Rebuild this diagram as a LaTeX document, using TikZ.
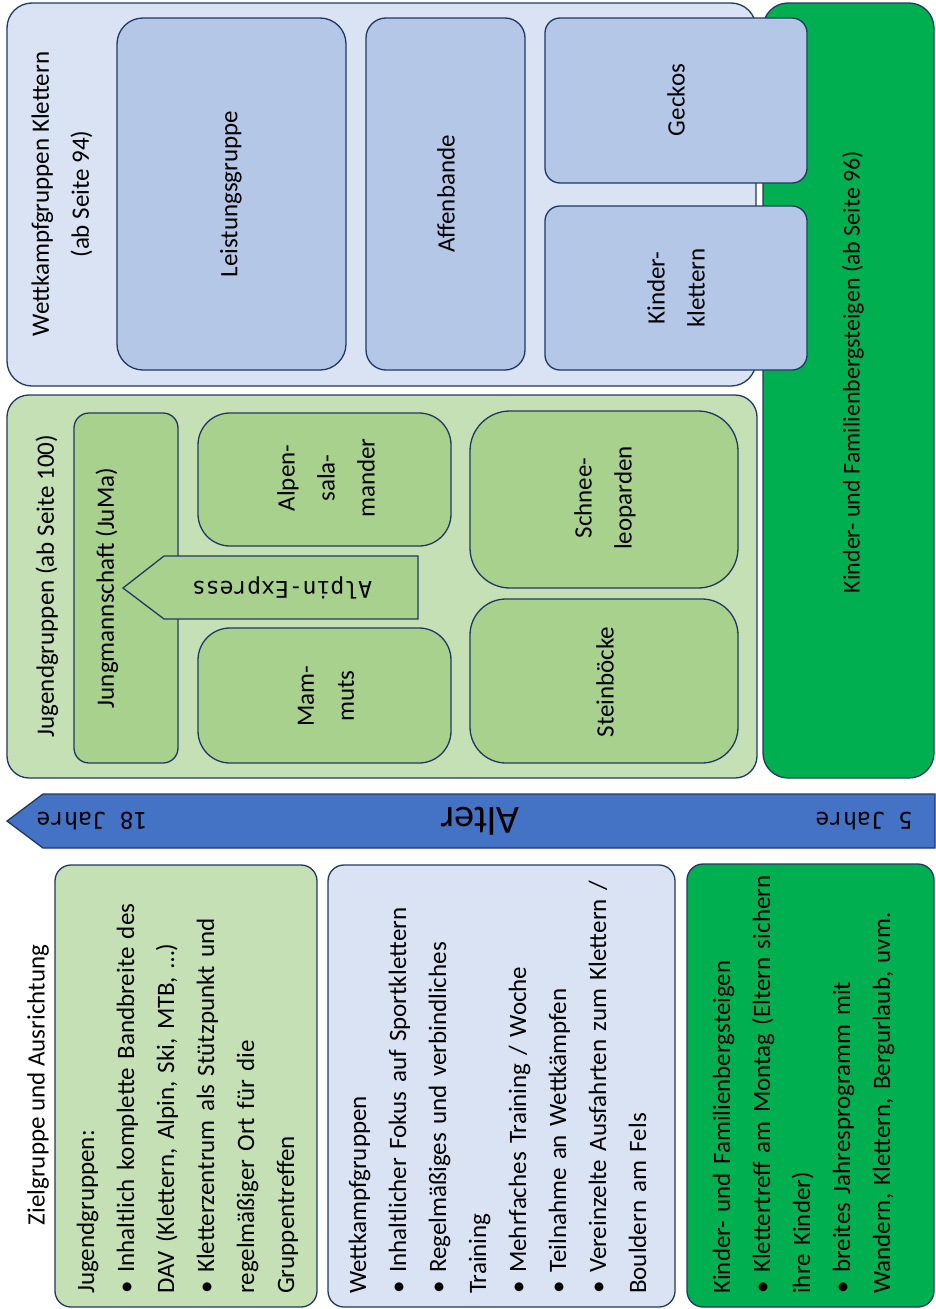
\documentclass[tikz,border=0pt]{standalone}
\usepackage{fontspec}
\setmainfont{Carlito}
\newfontfamily\dmono{DejaVu Sans Mono}
\definecolor{edge}{HTML}{1F3864}
\definecolor{wkouter}{HTML}{DAE3F3}
\definecolor{wkinner}{HTML}{B4C7E7}
\definecolor{jgouter}{HTML}{C5E0B4}
\definecolor{jginner}{HTML}{A9D18E}
\definecolor{kfgreen}{HTML}{00B050}
\definecolor{altblue}{HTML}{4472C4}
\newcommand\bul[1]{\par\hangindent=21pt\hangafter=1\noindent\hbox to 21pt{\textbullet\hfil}#1}
\tikzset{
  box/.style={draw=edge, line width=1.3pt},
  lbl/.style={rotate=90, font=\fontsize{25}{40}\selectfont, align=center, inner sep=0pt},
  para/.style={rotate=90, anchor=base west, text width=440pt, align=left, inner sep=0pt, font=\fontsize{25}{40}\selectfont},
  flip/.style={rotate=180, inner sep=0pt}
}
\begin{document}
\begin{tikzpicture}[x=1pt,y=-1pt]
\useasboundingbox (0,0) rectangle (936,1309);
\fill[white] (0,0) rectangle (936,1309);
% Kinder- und Familienbergsteigen column
\draw[box, fill=kfgreen, rounded corners=25] (763,3) rectangle (934,778);
\node[lbl, font=\fontsize{24}{40}\selectfont] (kftitle) at (853,372) {Kinder- und Familienbergsteigen (ab Seite 96)};
% Wettkampfgruppen
\draw[box, fill=wkouter, rounded corners=25] (7,3) rectangle (756,386);
\node[lbl] (wktitle) at (62,194) {Wettkampfgruppen Klettern\\(ab Seite 94)};
\draw[box, fill=wkinner, rounded corners=26] (117,18) rectangle (346,370);
\node[lbl] (leist) at (231,194) {Leistungsgruppe};
\draw[box, fill=wkinner, rounded corners=20] (366,18) rectangle (525,370);
\node[lbl] (affen) at (446,194) {Affenbande};
\draw[box, fill=wkinner, rounded corners=15] (545,18) rectangle (807,183);
\node[lbl] (geckos) at (676,100) {Geckos};
\draw[box, fill=wkinner, rounded corners=15] (545,206) rectangle (807,370);
\node[lbl] (kinderkl) at (676,288) {Kinder-\\klettern};
% Jugendgruppen
\draw[box, fill=jgouter, rounded corners=22] (7,395) rectangle (757,778);
\node[lbl] (jgtitle) at (47,586) {Jugendgruppen (ab Seite 100)};
\draw[box, fill=jginner, rounded corners=15] (74,413) rectangle (178,763);
\node[lbl] (juma) at (107,588) {Jungmannschaft (JuMa)};
\draw[box, fill=jginner, rounded corners=32] (198,413) rectangle (451,546);
\node[lbl] (alpsal) at (326,478) {Alpen-\\sala-\\mander};
\draw[box, fill=jginner, rounded corners=32] (198,628) rectangle (451,763);
\node[lbl] (mammuts) at (326,696) {Mam-\\muts};
\draw[box, fill=jginner, rounded corners=40] (470,411) rectangle (738,588);
\node[lbl] (schnee) at (605,498) {Schnee-\\leoparden};
\draw[box, fill=jginner, rounded corners=36] (470,599) rectangle (738,763);
\node[lbl] (stein) at (605,682) {Steinböcke};
\draw[box, fill=jginner] (123,588) -- (164,556) -- (418,556) -- (418,619) -- (164,619) -- cycle;
\node[flip, font=\dmono\fontsize{23}{28}\selectfont] (alpinex) at (282,588) {Alpin-Express};
% Alter arrow
\draw[box, fill=altblue] (7,821) -- (43,794) -- (935,794) -- (935,848) -- (43,848) -- cycle;
\node[flip, font=\dmono\fontsize{23}{28}\selectfont] (j18) at (92,821) {18 Jahre};
\node[flip, font=\fontsize{40}{48}\selectfont] (alter) at (480,821) {Alter};
\node[flip, font=\dmono\fontsize{23}{28}\selectfont] (j5) at (864,821) {5 Jahre};
% bottom description boxes
\node[lbl] (ziel) at (38,1085) {Zielgruppe und Ausrichtung};
\draw[box, fill=jgouter, rounded corners=16] (55,865) rectangle (317,1307);
\node[para] (jgtext) at (94,1294) {Jugendgruppen:
\bul{Inhaltlich komplette Bandbreite des\\DAV (Klettern, Alpin, Ski, MTB, …)}
\bul{Kletterzentrum als Stützpunkt und\\regelmäßiger Ort für die\\Gruppentreffen}};
\draw[box, fill=wkouter, rounded corners=16] (328,865) rectangle (675,1307);
\node[para] (wktext) at (366,1294) {Wettkampfgruppen
\bul{Inhaltlicher Fokus auf Sportklettern}
\bul{Regelmäßiges und verbindliches\\Training}
\bul{Mehrfaches Training / Woche}
\bul{Teilnahme an Wettkämpfen}
\bul{Vereinzelte Ausfahrten zum Klettern /\\Bouldern am Fels}};
\draw[box, fill=kfgreen, rounded corners=16] (687,864) rectangle (934,1307);
\node[para] (kftext) at (730,1294) {Kinder- und Familienbergsteigen
\bul{Klettertreff am Montag (Eltern sichern\\ihre Kinder)}
\bul{breites Jahresprogramm mit\\Wandern, Klettern, Bergurlaub, uvm.}};
\end{tikzpicture}
\end{document}
